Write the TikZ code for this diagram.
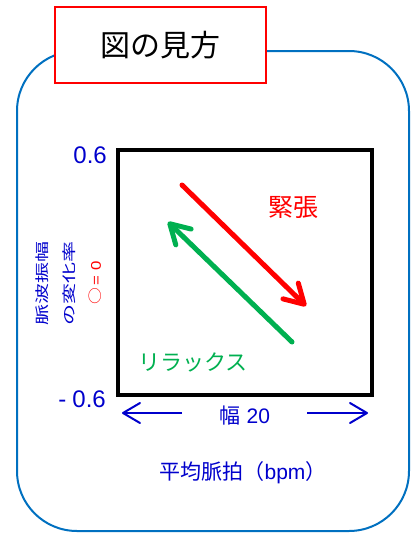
\documentclass[tikz,border=0pt]{standalone}
\usepackage{fontspec}
\setmainfont{Liberation Sans}
\newfontfamily\jp{Noto Sans CJK JP}
\usetikzlibrary{arrows.meta}
\definecolor{txtblue}{RGB}{0,0,204}
\definecolor{frameblue}{RGB}{0,112,192}
\definecolor{myred}{RGB}{255,0,0}
\definecolor{mygreen}{RGB}{0,176,80}
\tikzset{
  fs/.style={font=\fontsize{#1}{#1}\selectfont},
  bigarrow/.style={line width=5pt, line cap=round, -{Straight Barb[length=19pt,width=22pt,line join=round,line cap=round]}},
  smallarrow/.style={line width=2pt, txtblue, -{Straight Barb[length=17pt,width=20pt,line join=round,line cap=round]}},
}
\begin{document}
\begin{tikzpicture}[x=1pt,y=-1pt]
\useasboundingbox (0,0) rectangle (412,533);
% outer rounded frame
\draw[frameblue, line width=2pt, rounded corners=60pt] (17,51) rectangle (409,531);
% title
\node[draw=myred, line width=2pt, fill=white, minimum width=211pt, minimum height=76pt, inner sep=0pt, fs=30, text=black] (title) at (160.5,45) {\jp 図の見方};
% plot square
\node[draw=black, line width=4pt, minimum width=254pt, minimum height=245pt, inner sep=0pt] (box) at (245,272.5) {};
% axis labels
\node[txtblue, fs=24, anchor=east, inner sep=0pt] (ytop) at (107,155) {0.6};
\node[txtblue, fs=24, anchor=east, inner sep=0pt] (ybot) at (106,399) {-\hspace{6pt}0.6};
% vertical label
\node[rotate=90, inner sep=0pt, align=center, txtblue, font=\jp\fontsize{14}{26.5}\selectfont] (ylab) at (69,283)
  {\scalebox{1.5}[1]{脈波振幅}\\\scalebox{1.5}[1]{の変化率}\\\textcolor{myred}{\scalebox{1.2}[1]{○}\,\scalebox{1.2}[1]{\fontspec{Liberation Sans}= 0}}};
% arrows
\coordinate (r1) at (182,185);
\coordinate (r2) at (306,306);
\coordinate (g1) at (292,342);
\coordinate (g2) at (168,222);
\draw[bigarrow, myred] (r1) -- (r2);
\draw[bigarrow, mygreen] (g1) -- (g2);
\node[myred, fs=25, inner sep=0pt] (tension) at (293,207) {\jp 緊張};
\node[mygreen, fs=22, inner sep=0pt] (relax) at (193,362) {\jp リラックス};
% bottom width
\node[txtblue, fs=21, inner sep=0pt] (w20) at (245,416) {{\jp 幅} 20};
\coordinate (la) at (182,413);
\coordinate (lt) at (122,413);
\coordinate (ra) at (307,413);
\coordinate (rt) at (368,413);
\draw[smallarrow] (la) -- (lt);
\draw[smallarrow] (ra) -- (rt);
\node[txtblue, fs=21, inner sep=0pt] (xlab) at (243,473) {\jp 平均脈拍（\fontspec{Liberation Sans}bpm\jp）};
\end{tikzpicture}
\end{document}
